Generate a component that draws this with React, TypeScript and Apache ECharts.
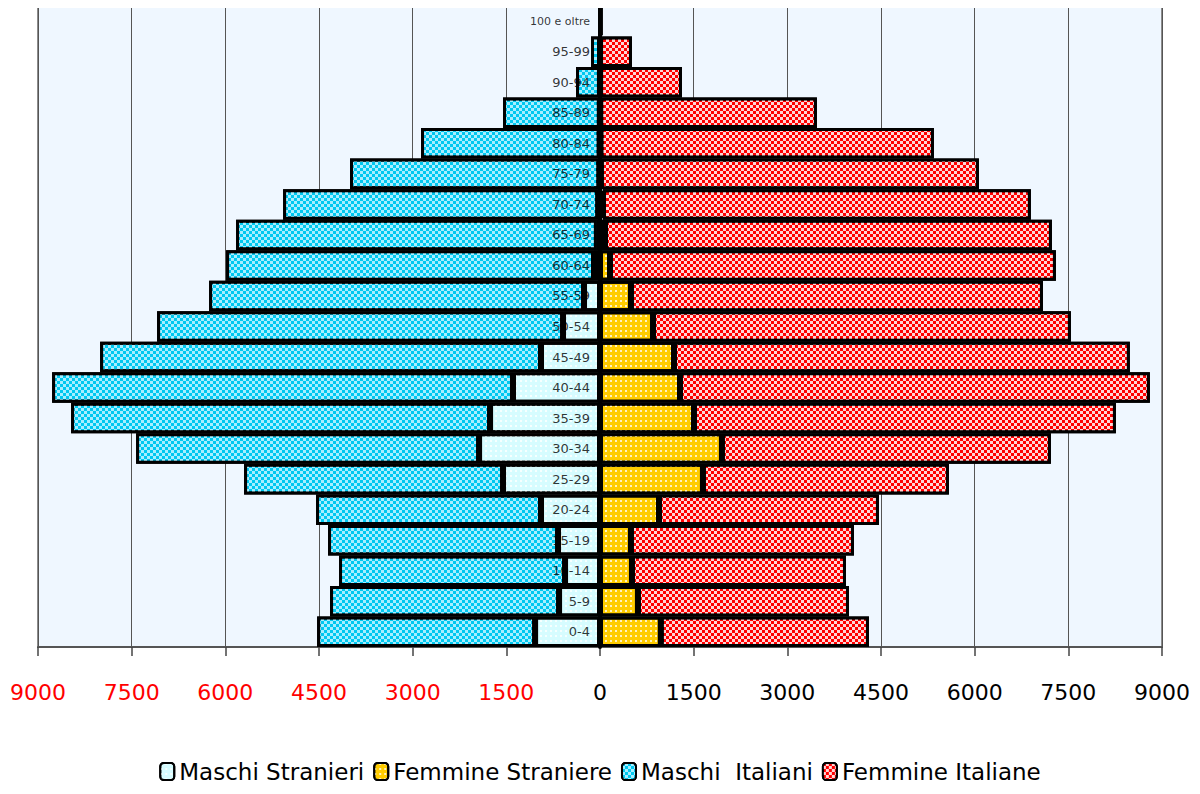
import React, { useEffect, useRef } from "react";
import * as echarts from "echarts";

const categories = [
  "0-4", "5-9", "10-14", "15-19", "20-24", "25-29", "30-34", "35-39", "40-44", "45-49",
  "50-54", "55-59", "60-64", "65-69", "70-74", "75-79", "80-84", "85-89", "90-94", "95-99",
  "100 e oltre",
];

const maschiStranieri = [1040, 656, 560, 672, 945, 1553, 1937, 1761, 1393, 945, 592, 256, 96, 50, 30, 12, 6, 3, 1, 0, 0];
const maschiItaliani = [3490, 3667, 3619, 3683, 3602, 4147, 5492, 6709, 7381, 7060, 6501, 6004, 5892, 5778, 5045, 3991, 2860, 1550, 383, 144, 10];
const femmineStraniere = [975, 608, 512, 496, 945, 1649, 1953, 1505, 1281, 1185, 849, 496, 160, 80, 48, 15, 8, 4, 2, 1, 0];
const femmineItaliane = [3332, 3379, 3427, 3571, 3522, 3939, 5268, 6757, 7525, 7300, 6692, 6597, 7141, 7157, 6852, 6053, 5339, 3470, 1311, 511, 40];

const xTicks = { min: -9000, max: 9000, interval: 1500 };

const checker = (color: string) => ({
  symbol: "rect",
  symbolSize: 1,
  color,
  dashArrayX: [[3, 3], [0, 3, 3, 0]],
  dashArrayY: [3, 0],
  rotation: 0,
});

const dots = (color: string) => ({
  symbol: "rect",
  symbolSize: 1,
  color,
  dashArrayX: [2, 3],
  dashArrayY: [2, 3],
  rotation: 0,
});

export default function App() {
  const ref = useRef<HTMLDivElement>(null);
  useEffect(() => {
    if (!ref.current) return;
    const chart = echarts.init(ref.current, undefined, { renderer: "svg" });
    const border = { borderColor: "#000", borderWidth: 3 };
    chart.setOption({
      animation: false,
      backgroundColor: "#ffffff",
      textStyle: { fontFamily: "DejaVu Sans" },
      grid: {
        left: 38,
        right: 38,
        top: 6,
        height: 641,
        show: true,
        backgroundColor: "#eff7ff",
        borderColor: "#8c8c8c",
        borderWidth: 2,
        containLabel: false,
        outerBoundsMode: "none",
      },
      legend: {
        bottom: 6,
        left: "center",
        itemWidth: 14,
        itemHeight: 17,
        itemGap: 9,
        textStyle: { fontSize: 23, color: "#000", fontFamily: "DejaVu Sans" },
        itemStyle: { borderColor: "#000", borderWidth: 2 },
        data: ["Maschi Stranieri", "Femmine Straniere", "Maschi  Italiani", "Femmine Italiane"],
      },
      xAxis: {
        type: "value",
        min: xTicks.min,
        max: xTicks.max,
        interval: xTicks.interval,
        axisLine: { show: true, onZero: false, lineStyle: { color: "#555", width: 2 } },
        axisTick: { show: true, length: 9, lineStyle: { color: "#444", width: 1.5 } },
        splitLine: { show: true, lineStyle: { color: "#555", width: 1 } },
        axisLabel: {
          margin: 34,
          fontSize: 22,
          fontFamily: "DejaVu Sans",
          formatter: (v: number) => String(Math.abs(v)),
          color: (v: any) => (Number(v) < 0 ? "#ff0000" : "#000000"),
        },
      },
      yAxis: {
        type: "category",
        data: categories,
        z: 10,
        axisLine: { show: true, onZero: true, lineStyle: { color: "#000", width: 4 } },
        axisTick: { show: false },
        splitLine: { show: false },
        axisLabel: { show: false },
      },
      series: [
        {
          name: "Maschi Stranieri",
          type: "bar",
          stack: "pop",
          barWidth: "100%",
          itemStyle: { color: "#d6fcff", ...border, decal: dots("#f6ffff") },
          data: maschiStranieri.map((v) => -v),
        },
        {
          name: "Femmine Straniere",
          type: "bar",
          stack: "pop",
          barWidth: "100%",
          itemStyle: { color: "#ffcc00", ...border, decal: dots("#fff2c0") },
          data: femmineStraniere,
        },
        {
          name: "Maschi  Italiani",
          type: "bar",
          stack: "pop",
          barWidth: "100%",
          itemStyle: { color: "#00c8f0", ...border, decal: checker("#a8eeff") },
          data: maschiItaliani.map((v) => -v),
        },
        {
          name: "Femmine Italiane",
          type: "bar",
          stack: "pop",
          barWidth: "100%",
          itemStyle: { color: "#ff0000", ...border, decal: checker("#ffd6d6") },
          data: femmineItaliane,
        },
        {
          name: "labels",
          type: "scatter",
          z: 5,
          symbolSize: 0,
          silent: true,
          label: {
            show: true,
            position: "left",
            distance: 10,
            fontSize: 13,
            color: "#000000",
            fontFamily: "DejaVu Sans",
            formatter: (p: any) => p.value[1],
          },
          data: categories.map((c) => ({
            value: [0, c],
            label: c === "100 e oltre" ? { fontSize: 11, color: "#000000" } : undefined,
          })),
        },
      ],
    });
    return () => chart.dispose();
  }, []);
  return <div ref={ref} style={{ width: 1200, height: 794, margin: -8 }} />;
}
